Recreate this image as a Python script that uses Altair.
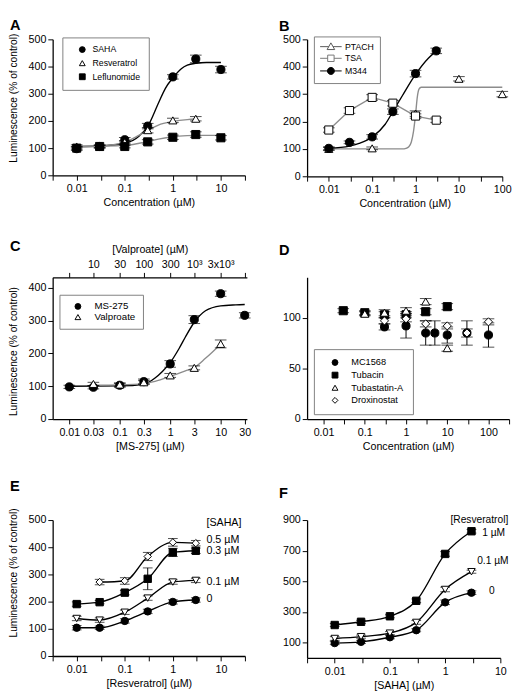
import altair as alt
import pandas as pd

FONT = "Liberation Sans"
GRAY = "#8c8c8c"

# ---------------- Panel A ----------------
a_names = ["SAHA", "Resveratrol", "Leflunomide"]
a_saha_x = [0.01, 0.03, 0.1, 0.3, 1, 3, 10]
a_saha_y = [98, 106, 131, 181, 362, 428, 389]
a_saha_e = [6, 5, 8, 10, 8, 14, 12]
a_resv_x = [0.01, 0.03, 0.1, 0.3, 1, 3]
a_resv_y = [106, 106, 122, 166, 202, 208]
a_resv_e = [6, 5, 6, 10, 8, 8]
a_lef_x = [0.01, 0.03, 0.1, 0.3, 1, 3, 10]
a_lef_y = [100, 106, 106, 123, 140, 150, 138]
a_lef_e = [6, 5, 5, 8, 8, 10, 8]
a_saha_fx = [0.01, 0.03, 0.1, 0.2, 0.3, 0.5, 0.7, 1, 1.5, 2, 3, 5, 10]
a_saha_fy = [106, 108, 118, 145, 180, 265, 320, 358, 392, 405, 412, 415, 415]
a_resv_fx = [0.01, 0.03, 0.1, 0.2, 0.3, 0.5, 1, 2, 3]
a_resv_fy = [106, 108, 122, 148, 165, 185, 198, 205, 207]
a_lef_fx = [0.01, 0.03, 0.1, 0.2, 0.3, 0.5, 1, 2, 3, 10]
a_lef_fy = [106, 107, 110, 118, 124, 133, 142, 146, 147, 147]

# ---------------- Panel B ----------------
b_names = ["PTACH", "TSA", "M344"]
b_ptach_x = [0.01, 0.1, 1, 10, 100]
b_ptach_y = [100, 102, 229, 356, 300]
b_ptach_e = [6, 5, 10, 8, 10]
b_tsa_x = [0.01, 0.03, 0.1, 0.3, 1, 3]
b_tsa_y = [169, 240, 288, 267, 220, 205]
b_tsa_e = [8, 10, 10, 10, 8, 8]
b_m344_x = [0.01, 0.03, 0.1, 0.3, 1, 3]
b_m344_y = [102, 124, 144, 236, 375, 458]
b_m344_e = [5, 5, 8, 10, 12, 10]
b_m344_fx = [0.01, 0.03, 0.05, 0.1, 0.2, 0.3, 0.5, 1, 2, 3]
b_m344_fy = [102, 110, 120, 143, 190, 236, 295, 372, 432, 457]
b_ptach_fx = [0.01, 0.5, 0.6, 0.7, 0.8, 0.9, 1.0, 1.1, 1.2, 1.35, 100]
b_ptach_fy = [100, 100, 102, 108, 125, 165, 225, 290, 318, 325, 325]

# ---------------- Panel C ----------------
c_names = ["MS-275", "Valproate"]
c_ms_x = [0.01, 0.03, 0.1, 0.3, 1, 3, 10, 30]
c_ms_y = [98, 97, 103, 114, 168, 303, 382, 316]
c_ms_e = [5, 5, 6, 8, 10, 12, 8, 8]
c_vpa_x = [0.03, 0.1, 0.3, 1, 3, 10]
c_vpa_y = [107, 105, 112, 133, 156, 229]
c_vpa_e = [5, 5, 5, 6, 6, 12]
c_ms_fx = [0.01, 0.1, 0.3, 0.5, 0.7, 1, 1.5, 2, 3, 5, 10, 20, 30]
c_ms_fy = [100, 101, 106, 125, 145, 172, 215, 250, 295, 330, 345, 348, 349]
c_vpa_fx = [0.03, 0.1, 0.3, 0.5, 1, 2, 3, 5, 10]
c_vpa_fy = [103, 104, 108, 115, 130, 147, 157, 185, 228]
c_bottom_ticks = [0.01, 0.03, 0.1, 0.3, 1, 3, 10, 30]
c_top_labels = ["", "10", "30", "100", "300", "10³", "3x10³", ""]

# ---------------- Panel D ----------------
d_names = ["MC1568", "Tubacin", "Tubastatin-A", "Droxinostat"]
d_mc_x = [0.3, 1, 3, 5, 10, 30, 100]
d_mc_y = [91, 92, 85, 85, 83, 85, 83]
d_mc_e = [3, 12, 12, 12, 8, 12, 12]
d_tub_x = [0.03, 0.1, 0.3, 1, 3, 10]
d_tub_y = [107, 105, 103, 103, 106, 111]
d_tub_e = [2, 2, 3, 3, 3, 3]
d_tsa_x = [0.1, 0.3, 1, 3, 10]
d_tsa_y = [104, 105, 107, 116, 70]
d_tsa_e = [2, 3, 3, 3, 3]
d_drx_x = [0.3, 1, 3, 10, 30, 100]
d_drx_y = [97, 99, 94, 92, 85, 96]
d_drx_e = [3, 3, 3, 3, 4, 3]

# ---------------- Panel E ----------------
e_names = ["SAHA 0", "SAHA 0.1", "SAHA 0.3", "SAHA 0.5"]
e_x = [0.01, 0.03, 0.1, 0.3, 1, 3]
e_s0 = [104, 104, 129, 164, 199, 206]
e_s0_e = [8, 6, 8, 8, 8, 8]
e_s01 = [138, 132, 161, 213, 272, 278]
e_s01_e = [8, 8, 8, 8, 8, 8]
e_s03 = [191, 198, 233, 284, 381, 387]
e_s03_e = [8, 6, 8, 40, 15, 10]
e_x05 = [0.03, 0.1, 0.3, 1, 3]
e_s05 = [272, 276, 366, 418, 415]
e_s05_e = [10, 12, 15, 14, 10]
e_lab_text = ["[SAHA]", "0.5 µM", "0.3 µM", "0.1 µM", "0"]
e_lab_x = [5, 5, 5, 5, 5]
e_lab_y = [489, 426, 386, 273, 210]

# ---------------- Panel F ----------------
f_names = ["Res 0", "Res 0.1", "Res 1"]
f_x = [0.01, 0.03, 0.1, 0.3, 1, 3]
f_r0 = [97, 105, 135, 181, 363, 426]
f_r0_e = [10, 10, 10, 10, 15, 12]
f_r01 = [127, 139, 162, 232, 447, 563]
f_r01_e = [12, 10, 10, 12, 15, 10]
f_r1 = [215, 236, 272, 373, 679, 827]
f_r1_e = [10, 10, 10, 12, 15, 12]
f_lab_text = ["[Resveratrol]", "1 µM", "0.1 µM", "0"]
f_lab_x = [1.25, 4.7, 3.8, 6.2]
f_lab_y = [900, 818, 634, 437]

YTITLE = "Luminescence (% of control)"
CTITLE = "Concentration (µM)"


def points_df(series):
    rows = []
    for name, xs, ys, es in series:
        for x, y, e in zip(xs, ys, es):
            rows.append({"series": name, "lseries": name + " curve", "x": x, "y": y,
                         "lo": y - e, "hi": y + e})
    return pd.DataFrame(rows)


def curve_df(series):
    rows = []
    for name, xs, ys in series:
        for x, y in zip(xs, ys):
            rows.append({"lseries": name + " curve", "x": x, "y": y})
    return pd.DataFrame(rows)


DEC_EXPR = ("abs(log(datum.value)/LN10 - round(log(datum.value)/LN10)) < 0.01 "
            "? format(datum.value, '~g') : ''")


def log_axis(k_lo, k_hi, title):
    vals = [10 ** (k / 2) for k in range(k_lo, k_hi + 1)]
    return alt.Axis(values=vals, labelExpr=DEC_EXPR, title=title, labelOverlap=False,
                    labelFlush=False, grid=False)


def y_axis(vals, title=None, title_y=None):
    kw = dict(values=vals, title=title, grid=False, labelOverlap=False)
    if title_y is not None:
        kw["titleY"] = title_y
    return alt.Axis(**kw)


def X(xs, xa, f="x"):
    return alt.X(f + ":Q", scale=xs, axis=xa)


def Y(ys, ya, f="y"):
    return alt.Y(f + ":Q", scale=ys, axis=ya)


def err_layers(pts, xs, ys, xa, ya, cap=12):
    rule = alt.Chart(pts).mark_rule(color="black", strokeWidth=1).encode(
        x=X(xs, xa), y=Y(ys, ya, "lo"), y2="hi:Q")
    lo = alt.Chart(pts).mark_tick(orient="horizontal", color="black", size=cap, thickness=1).encode(
        x=X(xs, xa), y=Y(ys, ya, "lo"))
    hi = alt.Chart(pts).mark_tick(orient="horizontal", color="black", size=cap, thickness=1).encode(
        x=X(xs, xa), y=Y(ys, ya, "hi"))
    return [rule, lo, hi]


def line_layer(df, xs, ys, xa, ya, names, colors, interp="monotone", width=1.4):
    dom = [n + " curve" for n in names]
    return alt.Chart(df).mark_line(interpolate=interp, strokeWidth=width).encode(
        x=X(xs, xa), y=Y(ys, ya),
        color=alt.Color("lseries:N", scale=alt.Scale(domain=dom, range=colors), legend=None))


def point_layer(pts, xs, ys, xa, ya, names, shapes, fills, legend, size=70):
    return alt.Chart(pts).mark_point(filled=True, size=size, strokeWidth=1,
                                     opacity=1, fillOpacity=1).encode(
        x=X(xs, xa), y=Y(ys, ya),
        shape=alt.Shape("series:N", scale=alt.Scale(domain=names, range=shapes), legend=legend),
        fill=alt.Fill("series:N", scale=alt.Scale(domain=names, range=fills), legend=legend),
        stroke=alt.Stroke("series:N", scale=alt.Scale(domain=names, range=["black"] * len(names)),
                          legend=legend))


def make_legend(x, y, symoff, laboff, fsize=10, pad=8, rowpad=2.3):
    return alt.Legend(title=None, orient="none", legendX=x, legendY=y, fillColor="white",
                      strokeColor="#7f7f7f", padding=pad, symbolOffset=symoff, labelOffset=laboff,
                      rowPadding=rowpad, labelFont=FONT, labelFontSize=fsize, labelColor="black",
                      symbolSize=36, symbolStrokeWidth=1, cornerRadius=0)


def panel_title(t, dx, offset, dy=0):
    return alt.TitleParams(text=t, anchor="start", frame="group", dx=dx, dy=dy, offset=offset,
                           fontSize=15, fontWeight="bold", font=FONT, color="black")


RES = dict(shape="independent", fill="independent", stroke="independent", color="independent")

# ---------------- build A ----------------
xsA = alt.Scale(type="log", domain=[10 ** -2.5, 10 ** 1.5], nice=False)
ysA = alt.Scale(domain=[0, 500], nice=False)
xaA = log_axis(-5, 3, CTITLE)
yaA = y_axis([0, 100, 200, 300, 400, 500], YTITLE, title_y=60)
ptsA = points_df([("SAHA", a_saha_x, a_saha_y, a_saha_e),
                  ("Resveratrol", a_resv_x, a_resv_y, a_resv_e),
                  ("Leflunomide", a_lef_x, a_lef_y, a_lef_e)])
crvA = curve_df([("SAHA", a_saha_fx, a_saha_fy), ("Resveratrol", a_resv_fx, a_resv_fy),
                 ("Leflunomide", a_lef_fx, a_lef_fy)])
A = alt.layer(
    line_layer(crvA, xsA, ysA, xaA, yaA, a_names, ["black", GRAY, GRAY]),
    *err_layers(ptsA, xsA, ysA, xaA, yaA),
    point_layer(ptsA, xsA, ysA, xaA, yaA, a_names, ["circle", "triangle-up", "square"],
                ["black", "white", "black"],
                make_legend(10, -2, 8, 6, fsize=9, pad=8, rowpad=3)),
).resolve_scale(**RES).properties(width=198, height=140, title=panel_title("A", -44, 0))

# ---------------- build B ----------------
xsB = alt.Scale(type="log", domain=[10 ** -2.5, 100], nice=False)
ysB = alt.Scale(domain=[0, 500], nice=False)
xaB = log_axis(-5, 4, CTITLE)
yaB = y_axis([0, 100, 200, 300, 400, 500])
ptsB = points_df([("PTACH", b_ptach_x, b_ptach_y, b_ptach_e),
                  ("TSA", b_tsa_x, b_tsa_y, b_tsa_e),
                  ("M344", b_m344_x, b_m344_y, b_m344_e)])
crvB = curve_df([("PTACH", b_ptach_fx, b_ptach_fy), ("M344", b_m344_fx, b_m344_fy)])
tsaB = curve_df([("TSA", b_tsa_x, b_tsa_y)])
b_leg_paths = [
    "M0,-1.3L1.3,1L-1.3,1Z M-3.7,0L-0.74,0 M0.74,0L3.7,0",
    "M-1.1,-1.1H1.1V1.1H-1.1Z M-3.7,0H-1.1 M1.1,0H3.7",
    "M1.2,0C1.2,0.66,0.66,1.2,0,1.2C-0.66,1.2,-1.2,0.66,-1.2,0C-1.2,-0.66,-0.66,-1.2,0,-1.2"
    "C0.66,-1.2,1.2,-0.66,1.2,0Z M-3.7,0H-1.2 M1.2,0H3.7",
]
b_leg = make_legend(7, -3, 7, 10, fsize=9, pad=6, rowpad=1)
legB = alt.Chart(ptsB).mark_point(filled=True, size=0, strokeWidth=1, opacity=1).encode(
    x=X(xsB, xaB), y=Y(ysB, yaB),
    shape=alt.Shape("series:N", scale=alt.Scale(domain=b_names, range=b_leg_paths), legend=b_leg),
    fill=alt.Fill("series:N", scale=alt.Scale(domain=b_names, range=["white", "white", "black"]),
                  legend=b_leg),
    stroke=alt.Stroke("series:N", scale=alt.Scale(domain=b_names, range=["#555555", "#777777", "black"]),
                      legend=b_leg))
B = alt.layer(
    line_layer(crvB, xsB, ysB, xaB, yaB, b_names, [GRAY, GRAY, "black"]),
    line_layer(tsaB, xsB, ysB, xaB, yaB, b_names, [GRAY, GRAY, "black"], interp="linear"),
    *err_layers(ptsB, xsB, ysB, xaB, yaB),
    point_layer(ptsB, xsB, ysB, xaB, yaB, b_names, ["triangle-up", "square", "circle"],
                ["white", "white", "black"], None),
    legB,
).resolve_scale(shape="independent", fill="independent", stroke="independent").properties(
    width=201, height=141, title=panel_title("B", -29, 0))

# ---------------- build C ----------------
xsC = alt.Scale(type="log", domain=[10 ** -2.33, 10 ** 1.52], nice=False)
ysC = alt.Scale(domain=[0, 432], nice=False)
xaC = alt.Axis(values=c_bottom_ticks, labelExpr="format(datum.value, '~g')", title="[MS-275] (µM)",
               labelOverlap=False, labelFlush=False, grid=False)
top_expr = ""
for v, lab in zip(c_bottom_ticks, c_top_labels):
    top_expr += "datum.value == %r ? '%s' : " % (v, lab)
top_expr += "''"
xaCtop = alt.Axis(orient="top", values=c_bottom_ticks, labelExpr=top_expr, title="[Valproate] (µM)",
                  labelOverlap=False, labelFlush=False, grid=False, titlePadding=4, labelPadding=3)
yaC = y_axis([0, 100, 200, 300, 400], YTITLE, title_y=76)
ptsC = points_df([("MS-275", c_ms_x, c_ms_y, c_ms_e), ("Valproate", c_vpa_x, c_vpa_y, c_vpa_e)])
crvC = curve_df([("MS-275", c_ms_fx, c_ms_fy), ("Valproate", c_vpa_fx, c_vpa_fy)])
C_main = alt.layer(
    line_layer(crvC, xsC, ysC, xaC, yaC, c_names, ["black", GRAY]),
    *err_layers(ptsC, xsC, ysC, xaC, yaC),
    point_layer(ptsC, xsC, ysC, xaC, yaC, c_names, ["circle", "triangle-up"], ["black", "white"],
                make_legend(7, 18, 7, 12, fsize=10, pad=7, rowpad=1)),
).resolve_scale(**RES)
C_top = alt.Chart(ptsC).mark_point(opacity=0).encode(
    x=alt.X("x:Q", scale=xsC, axis=xaCtop), y=alt.Y("y:Q", scale=ysC, axis=yaC))
C = alt.layer(C_main, C_top).resolve_axis(x="independent").properties(
    width=200, height=146, title=panel_title("C", -44, 0, dy=10))

# ---------------- build D ----------------
xsD = alt.Scale(type="log", domain=[10 ** -2.4, 10 ** 2.5], nice=False)
ysD = alt.Scale(domain=[0, 140], nice=False)
xaD = log_axis(-4, 5, CTITLE)
yaD = y_axis([0, 50, 100])
ptsD = points_df([("MC1568", d_mc_x, d_mc_y, d_mc_e), ("Tubacin", d_tub_x, d_tub_y, d_tub_e),
                  ("Tubastatin-A", d_tsa_x, d_tsa_y, d_tsa_e),
                  ("Droxinostat", d_drx_x, d_drx_y, d_drx_e)])
D = alt.layer(
    *err_layers(ptsD, xsD, ysD, xaD, yaD),
    point_layer(ptsD, xsD, ysD, xaD, yaD, d_names, ["circle", "square", "triangle-up", "diamond"],
                ["black", "black", "white", "white"],
                make_legend(7, 74, 8, 12, fsize=9.5, pad=9, rowpad=2)),
).properties(width=208, height=146, title=panel_title("D", -29, 20))

# ---------------- build E ----------------
xsE = alt.Scale(type="log", domain=[10 ** -2.5, 10 ** 1.5], nice=False)
ysE = alt.Scale(domain=[0, 500], nice=False)
xaE = log_axis(-5, 3, "[Resveratrol] (µM)")
yaE = y_axis([0, 100, 200, 300, 400, 500], YTITLE, title_y=54)
ptsE = points_df([("SAHA 0", e_x, e_s0, e_s0_e), ("SAHA 0.1", e_x, e_s01, e_s01_e),
                  ("SAHA 0.3", e_x, e_s03, e_s03_e), ("SAHA 0.5", e_x05, e_s05, e_s05_e)])
labE = pd.DataFrame({"label": e_lab_text, "x": e_lab_x, "y": e_lab_y})
E = alt.layer(
    line_layer(ptsE, xsE, ysE, xaE, yaE, e_names, ["black"] * 4),
    *err_layers(ptsE, xsE, ysE, xaE, yaE, cap=10),
    point_layer(ptsE, xsE, ysE, xaE, yaE, e_names, ["circle", "triangle-down", "square", "diamond"],
                ["black", "white", "black", "white"], None, size=58),
    alt.Chart(labE).mark_text(align="left", baseline="middle", font=FONT, fontSize=11,
                              color="black").encode(x=X(xsE, xaE), y=Y(ysE, yaE), text="label:N"),
).resolve_scale(**RES).properties(width=198, height=140, title=panel_title("E", -44, 14))

# ---------------- build F ----------------
xsF = alt.Scale(type="log", domain=[10 ** -2.5, 10], nice=False)
ysF = alt.Scale(domain=[0, 900], nice=False)
xaF = log_axis(-5, 2, "[SAHA] (µM)")
yaF = y_axis([100, 300, 500, 700, 900])
ptsF = points_df([("Res 0", f_x, f_r0, f_r0_e), ("Res 0.1", f_x, f_r01, f_r01_e),
                  ("Res 1", f_x, f_r1, f_r1_e)])
labF = pd.DataFrame({"label": f_lab_text, "x": f_lab_x, "y": f_lab_y})
F = alt.layer(
    line_layer(ptsF, xsF, ysF, xaF, yaF, f_names, ["black"] * 3),
    *err_layers(ptsF, xsF, ysF, xaF, yaF, cap=10),
    point_layer(ptsF, xsF, ysF, xaF, yaF, f_names, ["circle", "triangle-down", "square"],
                ["black", "white", "black"], None, size=58),
    alt.Chart(labF).mark_text(align="left", baseline="middle", font=FONT, fontSize=10.5,
                              color="black").encode(x=X(xsF, xaF), y=Y(ysF, yaF), text="label:N"),
).resolve_scale(**RES).properties(width=199, height=142, title=panel_title("F", -29, 14))

chart = alt.concat(A, B, C, D, E, F, columns=2, bounds="flush",
                   spacing={"row": 104, "column": 62}).resolve_scale(
    x="independent", y="independent", shape="independent", fill="independent",
    color="independent", stroke="independent").properties(
    padding={"left": 0, "top": 0, "right": 0, "bottom": 0}, background="white"
).configure_view(stroke=None).configure_axis(
    labelFont=FONT, titleFont=FONT, labelFontSize=11, titleFontSize=11, titleFontWeight="normal",
    labelColor="black", titleColor="black", domainColor="black", tickColor="black", grid=False,
    tickSize=5, domainWidth=1.3, tickWidth=1, labelPadding=2
).configure_axisBottom(labelPadding=3, titlePadding=3).configure_axisLeft(
    titlePadding=10, titleFontSize=10.5)

chart.save("out.html", embed_options={"renderer": "svg", "actions": False})
